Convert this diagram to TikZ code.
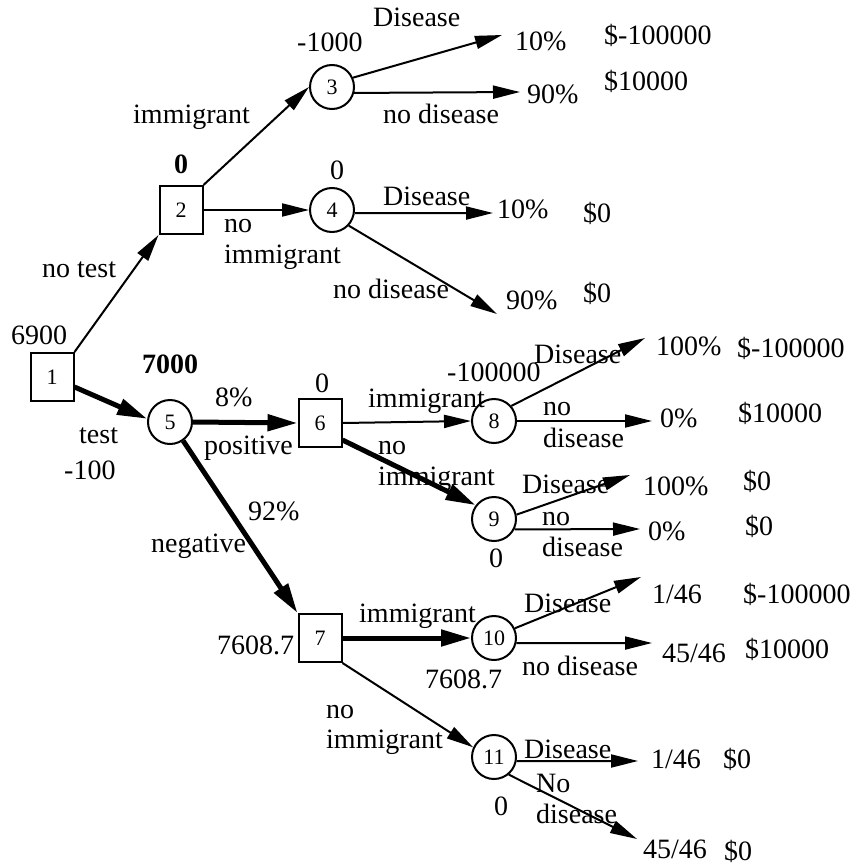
\documentclass[tikz,border=0pt]{standalone}
\usepackage{fontspec}
\setmainfont{Liberation Serif}
\usetikzlibrary{arrows.meta}
\begin{document}
\begin{tikzpicture}[x=1pt,y=-1pt,
  decbox/.style={draw, line width=2pt, minimum width=43pt, minimum height=48pt, inner sep=0pt, font=\fontsize{22}{22}\selectfont},
  chance/.style={draw, circle, line width=2pt, minimum size=44pt, inner sep=0pt, font=\fontsize{22}{22}\selectfont},
  lbl/.style={anchor=base west, inner sep=0pt, font=\fontsize{28}{30}\selectfont},
  conn/.style={line width=2pt, -{Triangle[length=27pt,width=13pt]}},
  heavy/.style={line width=5pt, -{Triangle[length=30pt,width=16pt]}}]
\useasboundingbox (0,0) rectangle (857,867);
% nodes
\node[decbox] (n1) at (52,377) {1};
\node[decbox] (n2) at (181,210) {2};
\node[chance] (n3) at (332,87) {3};
\node[chance] (n4) at (332,210) {4};
\node[chance] (n5) at (170,422) {5};
\node[decbox] (n6) at (320,423) {6};
\node[decbox] (n7) at (320,638) {7};
\node[chance] (n8) at (494,421) {8};
\node[chance] (n9) at (494,519) {9};
\node[chance] (n10) at (494,638) {10};
\node[chance] (n11) at (494,757) {11};
% free ends
\coordinate (e3a) at (502,35);
\coordinate (e3b) at (520,92);
\coordinate (e4a) at (493,213);
\coordinate (e4b) at (497,314);
\coordinate (e8a) at (645,338);
\coordinate (e8b) at (652,421);
\coordinate (e9a) at (630,475);
\coordinate (e9b) at (640,529);
\coordinate (e10a) at (641,577);
\coordinate (e10b) at (652,643);
\coordinate (e11a) at (638,761);
\coordinate (e11b) at (637,839);
% connectors
\draw[conn] (n1.north east) -- (n2.south west);
\draw[heavy] ([yshift=-10pt]n1.east) -- (n5.172);
\draw[conn] (n2.north east) -- (n3.west);
\draw[conn] (n2.east) -- (n4.west);
\draw[conn] (n3.24) -- (e3a);
\draw[conn] (n3.-15) -- (e3b);
\draw[conn] (n4.-8) -- (e4a);
\draw[conn] (n4.-43) -- (e4b);
\draw[heavy] (n5.east) -- (n6.west);
\draw[heavy] (n5.-55) -- (n7.north west);
\draw[conn] (n6.east) -- (n8.west);
\draw[heavy] ([yshift=-17pt]n6.east) -- (n9.143);
\draw[conn] (n8.41) -- (e8a);
\draw[conn] (n8.east) -- (e8b);
\draw[conn] (n9.11) -- (e9a);
\draw[conn] (n9.-27) -- (e9b);
\draw[heavy] (n7.east) -- (n10.west);
\draw[conn] (n7.south east) -- (n11.155);
\draw[conn] (n10.25) -- (e10a);
\draw[conn] (n10.-13) -- (e10b);
\draw[conn] (n11.-10) -- (e11a);
\draw[conn] (n11.-50) -- (e11b);
% labels: upper branch
\node[lbl] (t1) at (373,27) {Disease};
\node[lbl] (t2) at (297,52) {-1000};
\node[lbl] (t3) at (133,123) {immigrant};
\node[lbl] (t4) at (383,123) {no disease};
\node[lbl] (t5) at (515,51) {10\%};
\node[lbl] (t6) at (527,103) {90\%};
\node[lbl] (t7) at (604,45) {\$-100000};
\node[lbl] (t8) at (604,90) {\$10000};
\node[lbl,font=\fontsize{28}{30}\selectfont\bfseries] (t9) at (174,173) {0};
\node[lbl] (t10) at (330,179) {0};
\node[lbl] (t11) at (224,232) {no};
\node[lbl] (t12) at (224,263) {immigrant};
\node[lbl] (t13) at (383,205) {Disease};
\node[lbl] (t14) at (497,218) {10\%};
\node[lbl] (t15) at (583,222) {\$0};
\node[lbl] (t16) at (42,277) {no test};
\node[lbl] (t17) at (333,298) {no disease};
\node[lbl] (t18) at (506,309) {90\%};
\node[lbl] (t19) at (583,302) {\$0};
% middle
\node[lbl] (t20) at (11,344) {6900};
\node[lbl,font=\fontsize{28}{30}\selectfont\bfseries] (t21) at (142,373) {7000};
\node[lbl] (t22) at (79,443) {test};
\node[lbl] (t23) at (64,479) {-100};
\node[lbl] (t24) at (215,406) {8\%};
\node[lbl] (t25) at (204,454) {positive};
\node[lbl] (t26) at (315,392) {0};
\node[lbl] (t27) at (248,520) {92\%};
\node[lbl] (t28) at (151,552) {negative};
\node[lbl] (t29) at (368,407) {immigrant};
\node[lbl] (t30) at (378,454) {no};
\node[lbl] (t31) at (378,485) {immigrant};
\node[lbl] (t32) at (447,381) {-100000};
\node[lbl] (t33) at (534,363) {Disease};
\node[lbl] (t34) at (543,415) {no};
\node[lbl] (t35) at (543,447) {disease};
\node[lbl] (t36) at (656,355) {100\%};
\node[lbl] (t37) at (737,357) {\$-100000};
\node[lbl] (t38) at (660,427) {0\%};
\node[lbl] (t39) at (738,422) {\$10000};
\node[lbl] (t40) at (522,493) {Disease};
\node[lbl] (t41) at (643,495) {100\%};
\node[lbl] (t42) at (743,490) {\$0};
\node[lbl] (t43) at (542,525) {no};
\node[lbl] (t44) at (542,556) {disease};
\node[lbl] (t45) at (648,540) {0\%};
\node[lbl] (t46) at (745,535) {\$0};
\node[lbl] (t47) at (489,567) {0};
% lower
\node[lbl] (t48) at (652,603) {1/46};
\node[lbl] (t49) at (743,603) {\$-100000};
\node[lbl] (t50) at (524,612) {Disease};
\node[lbl] (t51) at (217,654) {7608.7};
\node[lbl] (t52) at (359,622) {immigrant};
\node[lbl] (t53) at (425,688) {7608.7};
\node[lbl] (t54) at (522,675) {no disease};
\node[lbl] (t55) at (662,662) {45/46};
\node[lbl] (t56) at (745,658) {\$10000};
\node[lbl] (t57) at (326,718) {no};
\node[lbl] (t58) at (326,748) {immigrant};
\node[lbl] (t59) at (524,758) {Disease};
\node[lbl] (t60) at (651,768) {1/46};
\node[lbl] (t61) at (723,768) {\$0};
\node[lbl] (t62) at (536,792) {No};
\node[lbl] (t63) at (536,823) {disease};
\node[lbl] (t64) at (494,815) {0};
\node[lbl] (t65) at (643,858) {45/46};
\node[lbl] (t66) at (724,860) {\$0};
\end{tikzpicture}
\end{document}
